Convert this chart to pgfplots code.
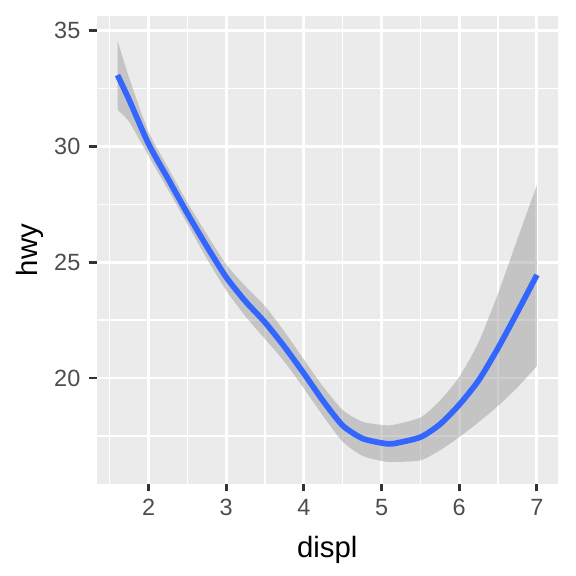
\documentclass[border=0pt]{standalone}
\usepackage{pgfplots}
\pgfplotsset{compat=1.18}
\usepackage{pgfplotstable}
\usepgfplotslibrary{fillbetween}
\usepackage{fontspec}
\setmainfont{Liberation Sans}
\definecolor{ggbg}{HTML}{EBEBEB}
\definecolor{ggblue}{HTML}{3366FF}
\definecolor{ribbon}{HTML}{999999}
\definecolor{tickgray}{HTML}{4D4D4D}
\definecolor{tickline}{HTML}{333333}
\pgfplotstableread{
x y lo hi
1.60 33.07 31.57 34.57
1.75 32.00 31.05 32.95
2.00 30.10 29.58 30.62
2.25 28.60 28.13 29.08
2.50 27.10 26.65 27.57
2.75 25.68 25.15 26.20
3.00 24.35 23.78 24.90
3.25 23.30 22.65 23.95
3.50 22.40 21.68 23.10
3.75 21.35 20.70 22.00
4.00 20.20 19.55 20.80
4.25 19.00 18.35 19.62
4.50 17.95 17.25 18.62
4.75 17.40 16.65 18.12
5.00 17.20 16.42 17.98
5.15 17.17 16.38 17.98
5.50 17.45 16.45 18.30
5.75 18.00 16.88 19.02
6.00 18.85 17.45 20.05
6.25 19.90 18.10 21.55
6.50 21.30 18.80 23.65
6.75 22.85 19.60 26.00
7.00 24.45 20.52 28.33
}\smooth
\begin{document}
\begin{tikzpicture}
\begin{axis}[
  at={(0pt,0pt)}, anchor=south west,
  scale only axis,
  width=173pt, height=175.5pt,
  xmin=1.33, xmax=7.27,
  ymin=15.43, ymax=35.62,
  axis background/.style={fill=ggbg},
  axis line style={draw=none},
  axis x line*=bottom, axis y line*=left,
  xtick={2,3,4,5,6,7},
  ytick={20,25,30,35},
  minor xtick={1.5,2.5,3.5,4.5,5.5,6.5},
  minor ytick={17.5,22.5,27.5,32.5},
  grid=both,
  major grid style={white, line width=1.07pt},
  minor grid style={white, line width=0.53pt},
  tick align=outside,
  major tick length=2.75pt,
  minor tick length=0pt,
  tick style={tickline, line width=1.07pt},
  /pgf/number format/assume math mode=true,
  ticklabel style={font=\fontsize{8.8}{10}\selectfont, text=tickgray},
  xticklabel style={yshift=0.6pt},
  yticklabel style={xshift=0.2pt},
  xlabel={displ}, ylabel={hwy},
  label style={font=\fontsize{11}{13}\selectfont, text=black},
  xlabel style={at={(axis description cs:0.5,0)}, anchor=base, yshift=-27.7pt},
  ylabel style={at={(axis description cs:0,0.5)}, anchor=base, yshift=22.3pt},
  clip=true,
]
\addplot[name path=upper, draw=none, smooth, tension=0.4, forget plot] table[x=x, y=hi] {\smooth};
\addplot[name path=lower, draw=none, smooth, tension=0.4, forget plot] table[x=x, y=lo] {\smooth};
\addplot[fill=ribbon, fill opacity=0.47, draw=none, forget plot] fill between[of=upper and lower];
\addplot[ggblue, line width=2.13pt, smooth, tension=0.4] table[x=x, y=y] {\smooth};
\end{axis}
\pgfresetboundingbox
\path[use as bounding box] (-36.2pt,-34.5pt) rectangle (179.8pt,181.5pt);
\end{tikzpicture}
\end{document}
